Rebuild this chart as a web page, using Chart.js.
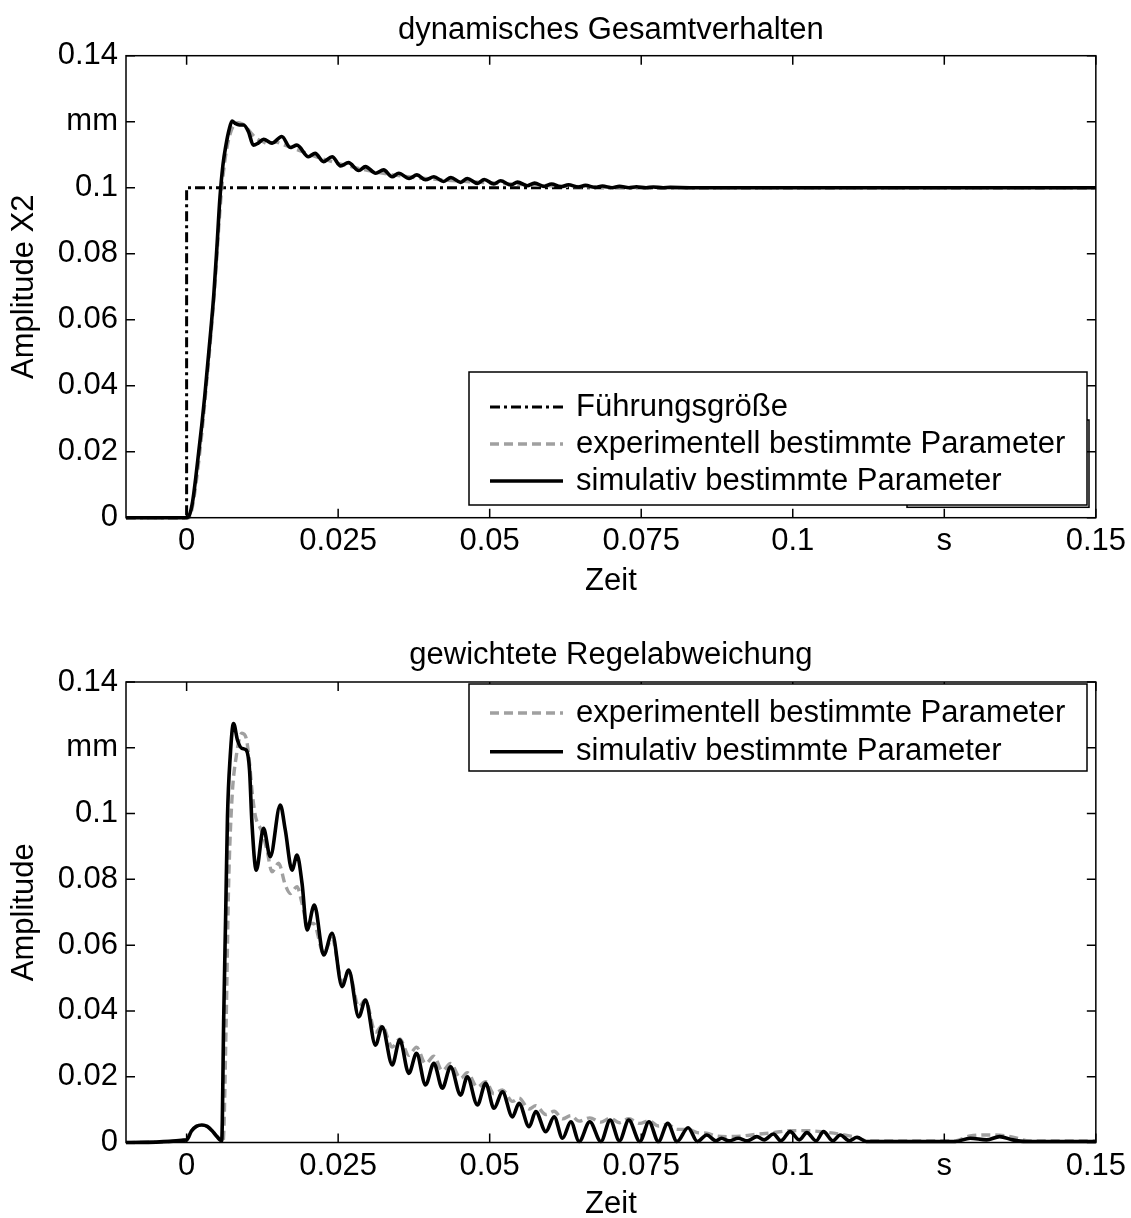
<!DOCTYPE html>
<html>
<head>
<meta charset="utf-8">
<title>dynamisches Gesamtverhalten / gewichtete Regelabweichung</title>
<script src="https://cdn.jsdelivr.net/npm/chart.js@4.4.1/dist/chart.umd.min.js"></script>
<style>
  html, body { margin: 0; padding: 0; background: #fff; width: 1131px; height: 1218px; overflow: hidden; }
  .panel { position: absolute; left: 0; }
  #topPanel { top: 0; }
  #bottomPanel { top: 620px; }
  canvas { display: block; }
</style>
</head>
<body>
<div class="panel" id="topPanel"><canvas id="topChart" width="1131" height="620"></canvas></div>
<div class="panel" id="bottomPanel"><canvas id="bottomChart" width="1131" height="620"></canvas></div>
<script>
// ---- axis ticks ----
const xTickValues = [0, 0.025, 0.05, 0.075, 0.1, 0.125, 0.15];
const xTickLabels = ['0', '0.025', '0.05', '0.075', '0.1', 's', '0.15'];
const yTickValues = [0, 0.02, 0.04, 0.06, 0.08, 0.1, 0.12, 0.14];
const yTickLabels = ['0', '0.02', '0.04', '0.06', '0.08', '0.1', 'mm', '0.14'];

// ---- step response (s, mm) ----
const refTime  = [-0.01, 0, 0, 0.15];
const refValue = [0, 0, 0.1, 0.1];

const topSimTime = [
  -0.0100, 0.0000, 0.0005, 0.0010, 0.0015, 0.0020, 0.0025, 0.0030, 0.0035, 0.0040,
  0.0045, 0.0050, 0.0055, 0.0060, 0.0065, 0.0070, 0.0075, 0.0080, 0.0087, 0.0094,
  0.0102, 0.0110, 0.0118, 0.0127, 0.0141, 0.0157, 0.0171, 0.0182, 0.0201, 0.0212,
  0.0226, 0.0240, 0.0254, 0.0267, 0.0284, 0.0295, 0.0312, 0.0325, 0.0339, 0.0350,
  0.0367, 0.0380, 0.0394, 0.0408, 0.0424, 0.0436, 0.0452, 0.0463, 0.0480, 0.0491,
  0.0507, 0.0518, 0.0535, 0.0546, 0.0562, 0.0574, 0.0590, 0.0602, 0.0618, 0.0630,
  0.0646, 0.0658, 0.0674, 0.0686, 0.0702, 0.0714, 0.0730, 0.0742, 0.0758, 0.0770,
  0.0786, 0.0798, 0.0830, 0.1500
];
const topSimValue = [
  0, 0, 0.001, 0.005, 0.012, 0.020, 0.028, 0.037, 0.047, 0.057,
  0.068, 0.082, 0.097, 0.107, 0.113, 0.1175, 0.1202, 0.1195, 0.1190, 0.1190,
  0.1170, 0.1129, 0.1135, 0.1147, 0.1135, 0.1155, 0.1122, 0.1129, 0.1094, 0.1104,
  0.1079, 0.1094, 0.1066, 0.1076, 0.1052, 0.1064, 0.1044, 0.1054, 0.1033, 0.1044,
  0.1028, 0.1039, 0.1024, 0.1033, 0.1019, 0.1031, 0.1016, 0.1028, 0.1013, 0.1025,
  0.1011, 0.1021, 0.1008, 0.1017, 0.1006, 0.1014, 0.1004, 0.1011, 0.1003, 0.1009,
  0.1002, 0.1007, 0.1001, 0.1005, 0.1000, 0.1004, 0.1000, 0.1003, 0.1000, 0.1002,
  0.1000, 0.1001, 0.1000, 0.1000
];

const topExpTime = [
  -0.0100, 0.0003, 0.0008, 0.0013, 0.0018, 0.0023, 0.0028, 0.0033, 0.0038, 0.0043,
  0.0048, 0.0053, 0.0058, 0.0063, 0.0068, 0.0073, 0.0078, 0.0085, 0.0092, 0.0100,
  0.0108, 0.0116, 0.0125, 0.0135, 0.0147, 0.0160, 0.0175, 0.0190, 0.0205, 0.0220,
  0.0235, 0.0250, 0.0265, 0.0280, 0.0300, 0.0320, 0.0340, 0.0360, 0.0380, 0.0400,
  0.0420, 0.0445, 0.0470, 0.0500, 0.0530, 0.0560, 0.0600, 0.0650, 0.0700, 0.0800,
  0.1500
];
const topExpValue = [
  0, 0, 0.002, 0.007, 0.014, 0.022, 0.031, 0.041, 0.051, 0.062,
  0.074, 0.088, 0.100, 0.108, 0.1135, 0.1170, 0.1190, 0.1197, 0.1193, 0.1180,
  0.1162, 0.1148, 0.1140, 0.1133, 0.1138, 0.1130, 0.1120, 0.1110, 0.1099, 0.1090,
  0.1082, 0.1074, 0.1067, 0.1060, 0.1052, 0.1045, 0.1039, 0.1034, 0.1030, 0.1027,
  0.1024, 0.1021, 0.1018, 0.1015, 0.1012, 0.1009, 0.1006, 0.1003, 0.1001, 0.1000,
  0.1000
];

// ---- weighted control error (s, mm) ----
const botSimTime = [
  -0.0100, 0.0000, 0.0008, 0.0016, 0.0025, 0.0034, 0.0042, 0.0050, 0.00579, 0.00612,
  0.00645, 0.00674, 0.00719, 0.00774, 0.00840, 0.00912, 0.00983, 0.01038, 0.01078, 0.01149,
  0.01269, 0.01380, 0.01545, 0.01628, 0.01739, 0.01821, 0.01904, 0.01987, 0.02107, 0.02261,
  0.02400, 0.02565, 0.02674, 0.02840, 0.02950, 0.03116, 0.03226, 0.03392, 0.03517, 0.03666,
  0.03793, 0.03942, 0.04079, 0.04218, 0.04355, 0.04521, 0.04631, 0.04797, 0.04934, 0.05071,
  0.05210, 0.05375, 0.05484, 0.05650, 0.05760, 0.05926, 0.06063, 0.06202, 0.06339, 0.06476,
  0.06651, 0.06835, 0.06988, 0.07140, 0.07294, 0.07478, 0.07628, 0.07783, 0.07937, 0.08091,
  0.08273, 0.08426, 0.08580, 0.08732, 0.08825, 0.08947, 0.09099, 0.09253, 0.09407, 0.09529,
  0.09681, 0.09803, 0.09957, 0.10107, 0.10233, 0.10385, 0.10507, 0.10661, 0.10783, 0.10934,
  0.11060, 0.11212, 0.12681, 0.12926, 0.13198, 0.13413, 0.13628, 0.13843, 0.15000
];
const botSimValue = [
  0, 0.0008, 0.0035, 0.0049, 0.0053, 0.0049, 0.0036, 0.0018, 0.0005, 0.038,
  0.070, 0.099, 0.1173, 0.1274, 0.1223, 0.1198, 0.1193, 0.1132, 0.0970, 0.0828,
  0.0955, 0.0869, 0.1026, 0.0950, 0.0828, 0.0874, 0.0788, 0.0646, 0.0722, 0.0570,
  0.0636, 0.0474, 0.0524, 0.0382, 0.0433, 0.0296, 0.0352, 0.0236, 0.0312, 0.0210,
  0.0271, 0.0175, 0.0241, 0.0165, 0.0230, 0.0144, 0.0200, 0.0114, 0.0180, 0.0104,
  0.0154, 0.0078, 0.0119, 0.0048, 0.0094, 0.0033, 0.0078, 0.0013, 0.0063, 0.0003,
  0.0063, 0.0003, 0.0068, 0.0005, 0.0068, 0.0003, 0.0063, 0.0003, 0.0058, 0.0003,
  0.0045, 0.0003, 0.0023, 0.0005, 0.0013, 0.0005, 0.0013, 0.0005, 0.0018, 0.0008,
  0.0026, 0.0005, 0.0033, 0.0008, 0.0030, 0.0005, 0.0033, 0.0005, 0.0023, 0.0005,
  0.0016, 0.0003, 0.0003, 0.0013, 0.0008, 0.0018, 0.0008, 0.0003, 0.0003
];

const botExpTime = [
  -0.0100, 0.0000, 0.0008, 0.0016, 0.0025, 0.0034, 0.0042, 0.0050, 0.00603, 0.00653,
  0.00691, 0.00747, 0.00818, 0.00912, 0.00983, 0.01038, 0.01078, 0.01132, 0.01243, 0.01326,
  0.01408, 0.01517, 0.01628, 0.01711, 0.01821, 0.01904, 0.01987, 0.02096, 0.02261, 0.02400,
  0.02565, 0.02674, 0.02840, 0.02950, 0.03116, 0.03226, 0.03392, 0.03517, 0.03666, 0.03793,
  0.03942, 0.04079, 0.04218, 0.04355, 0.04521, 0.04631, 0.04797, 0.04934, 0.05071, 0.05210,
  0.05375, 0.05484, 0.05650, 0.05760, 0.05926, 0.06063, 0.06202, 0.06339, 0.06476, 0.06651,
  0.06835, 0.06988, 0.07140, 0.07294, 0.07478, 0.07628, 0.07783, 0.07937, 0.08091, 0.08273,
  0.08426, 0.08580, 0.08732, 0.08947, 0.09182, 0.09407, 0.09681, 0.09957, 0.10233, 0.10507,
  0.10783, 0.11060, 0.11212, 0.12681, 0.12926, 0.13293, 0.13595, 0.13906, 0.15000
];
const botExpValue = [
  0, 0.0008, 0.0035, 0.0049, 0.0053, 0.0049, 0.0036, 0.0018, 0.0005, 0.0372,
  0.0767, 0.1041, 0.1173, 0.1244, 0.1229, 0.1153, 0.1071, 0.0995, 0.0945, 0.0889,
  0.0823, 0.0849, 0.0783, 0.0757, 0.0778, 0.0727, 0.0666, 0.0666, 0.0575, 0.0621,
  0.0487, 0.0520, 0.0413, 0.0433, 0.0335, 0.0355, 0.0290, 0.0315, 0.0265, 0.0290,
  0.0240, 0.0262, 0.0218, 0.0240, 0.0195, 0.0212, 0.0168, 0.0185, 0.0148, 0.0160,
  0.0125, 0.0135, 0.0102, 0.0112, 0.0085, 0.0095, 0.0072, 0.0082, 0.0065, 0.0075,
  0.0062, 0.0074, 0.0060, 0.0072, 0.0058, 0.0066, 0.0050, 0.0055, 0.0040, 0.0040,
  0.0030, 0.0028, 0.0020, 0.0018, 0.0020, 0.0025, 0.0030, 0.0036, 0.0036, 0.0032,
  0.0025, 0.0015, 0.0005, 0.0005, 0.0020, 0.0023, 0.0018, 0.0005, 0.0005
];

// ---- styling ----
const FONT = '"Liberation Sans", Arial, Helvetica, sans-serif';
const FS = 31;
const BLACK = '#000000';
const GREY = '#a0a0a0';
const DASH_DOT = [10, 4, 3, 4];
const DASHED = [9, 5];
const TICK_LEN = 9;
const W_SOLID = 3.6;
const W_DASHED = 3.4;
const W_DASHDOT = 3;

Chart.defaults.font.family = FONT;
Chart.defaults.color = BLACK;

const pts = (ts, vs) => ts.map((t, i) => ({ x: t, y: vs[i] }));

function curve(label, ts, vs, color, dash, width, smooth) {
  return {
    label, data: pts(ts, vs),
    borderColor: color, borderWidth: width, borderDash: dash,
    borderJoinStyle: 'round',
    pointRadius: 0, fill: false, clip: false,
    tension: 0, cubicInterpolationMode: smooth ? 'monotone' : 'default'
  };
}

// box, inward ticks on all four sides
const frameTicks = {
  id: 'frameTicks',
  afterDatasetsDraw(chart) {
    const { ctx, chartArea: a, scales: { x, y } } = chart;
    ctx.save();
    ctx.strokeStyle = BLACK;
    ctx.lineWidth = 1.5;
    ctx.setLineDash([]);
    ctx.beginPath();
    xTickValues.forEach(v => {
      const px = x.getPixelForValue(v);
      ctx.moveTo(px, a.bottom); ctx.lineTo(px, a.bottom - TICK_LEN);
      ctx.moveTo(px, a.top); ctx.lineTo(px, a.top + TICK_LEN);
    });
    yTickValues.forEach(v => {
      const py = y.getPixelForValue(v);
      ctx.moveTo(a.left, py); ctx.lineTo(a.left + TICK_LEN, py);
      ctx.moveTo(a.right, py); ctx.lineTo(a.right - TICK_LEN, py);
    });
    ctx.stroke();
    ctx.strokeRect(a.left, a.top, a.right - a.left, a.bottom - a.top);
    ctx.restore();
  }
};

// boxed legend inside the axes
const panelLegend = {
  id: 'panelLegend',
  afterDraw(chart, args, o) {
    if (!o || !o.items) return;
    const ctx = chart.ctx;
    ctx.save();
    ctx.setLineDash([]);
    ctx.strokeStyle = BLACK;
    ctx.lineWidth = 1.5;
    if (o.ghost) {
      const g = o.ghost;
      ctx.strokeRect(g[0], g[1], g[2] - g[0], g[3] - g[1]);
    }
    const b = o.box;
    ctx.fillStyle = '#ffffff';
    ctx.fillRect(b[0], b[1], b[2] - b[0], b[3] - b[1]);
    ctx.strokeRect(b[0], b[1], b[2] - b[0], b[3] - b[1]);
    ctx.font = FS + 'px ' + FONT;
    ctx.textBaseline = 'middle';
    ctx.textAlign = 'left';
    o.items.forEach((it, i) => {
      const yy = o.rows[i];
      ctx.beginPath();
      ctx.strokeStyle = it.color;
      ctx.lineWidth = it.width;
      ctx.setLineDash(it.dash);
      ctx.moveTo(o.sample[0], yy);
      ctx.lineTo(o.sample[1], yy);
      ctx.stroke();
      ctx.setLineDash([]);
      ctx.fillStyle = BLACK;
      ctx.fillText(it.label, o.textX, yy);
    });
    ctx.restore();
  }
};

function buildChart(id, spec) {
  return new Chart(document.getElementById(id), {
    type: 'line',
    data: { datasets: spec.datasets },
    options: {
      responsive: false,
      animation: false,
      devicePixelRatio: 1,
      events: [],
      layout: { padding: { left: 0, right: 35, top: 0, bottom: 0 } },
      plugins: {
        legend: { display: false },
        tooltip: { enabled: false },
        title: {
          display: true, text: spec.title, color: BLACK, fullSize: false,
          font: { family: FONT, size: FS, weight: 'normal', lineHeight: 1.2 },
          padding: spec.titlePadding
        },
        panelLegend: spec.legend
      },
      scales: {
        x: {
          type: 'linear', min: -0.01, max: 0.15,
          grid: { display: false, drawTicks: false },
          border: { display: false },
          afterBuildTicks: s => { s.ticks = xTickValues.map(v => ({ value: v })); },
          afterFit: s => { s.height = spec.xAxisHeight; },
          ticks: {
            autoSkip: false, maxRotation: 0, minRotation: 0, padding: 5, color: BLACK,
            font: { family: FONT, size: FS, lineHeight: 1.2 },
            callback: (v, i) => xTickLabels[i]
          },
          title: {
            display: true, text: 'Zeit', color: BLACK,
            font: { family: FONT, size: FS, lineHeight: 1.2 },
            padding: spec.xTitlePad
          }
        },
        y: {
          type: 'linear', min: 0, max: 0.14,
          grid: { display: false, drawTicks: false },
          border: { display: false },
          afterBuildTicks: s => { s.ticks = yTickValues.map(v => ({ value: v })); },
          afterFit: s => { s.width = 126; },
          ticks: {
            autoSkip: false, padding: 8, color: BLACK,
            font: { family: FONT, size: FS, lineHeight: 1.2 },
            callback: (v, i) => yTickLabels[i]
          },
          title: {
            display: true, text: spec.yTitle, color: BLACK,
            font: { family: FONT, size: FS, lineHeight: 1.2 },
            padding: 5.4
          }
        }
      }
    },
    plugins: [frameTicks, panelLegend]
  });
}

const LBL_REF = 'Führungsgröße';
const LBL_EXP = 'experimentell bestimmte Parameter';
const LBL_SIM = 'simulativ bestimmte Parameter';

buildChart('topChart', {
  title: 'dynamisches Gesamtverhalten',
  titlePadding: { top: 11.4, bottom: 7.1 },
  xAxisHeight: 102.3,
  xTitlePad: 20.4,
  yTitle: 'Amplitude X2',
  datasets: [
    curve(LBL_SIM, topSimTime, topSimValue, BLACK, [], W_SOLID, true),
    curve(LBL_EXP, topExpTime, topExpValue, GREY, DASHED, W_DASHED, true),
    curve(LBL_REF, refTime, refValue, BLACK, DASH_DOT, W_DASHDOT, false)
  ],
  legend: {
    box: [469, 372, 1087, 505],
    ghost: [907, 420, 1089, 507.3],
    rows: [407, 444, 481],
    sample: [490, 563],
    textX: 576,
    items: [
      { label: LBL_REF, color: BLACK, dash: DASH_DOT, width: W_DASHDOT },
      { label: LBL_EXP, color: GREY, dash: DASHED, width: W_DASHED },
      { label: LBL_SIM, color: BLACK, dash: [], width: W_SOLID }
    ]
  }
});

buildChart('bottomChart', {
  title: 'gewichtete Regelabweichung',
  titlePadding: { top: 16.4, bottom: 8.4 },
  xAxisHeight: 97.5,
  xTitlePad: 17.4,
  yTitle: 'Amplitude',
  datasets: [
    curve(LBL_SIM, botSimTime, botSimValue, BLACK, [], W_SOLID, true),
    curve(LBL_EXP, botExpTime, botExpValue, GREY, DASHED, W_DASHED, true)
  ],
  legend: {
    box: [469, 64, 1087, 151],
    ghost: null,
    rows: [93, 131.7],
    sample: [490, 563],
    textX: 576,
    items: [
      { label: LBL_EXP, color: GREY, dash: DASHED, width: W_DASHED },
      { label: LBL_SIM, color: BLACK, dash: [], width: W_SOLID }
    ]
  }
});
</script>
</body>
</html>
